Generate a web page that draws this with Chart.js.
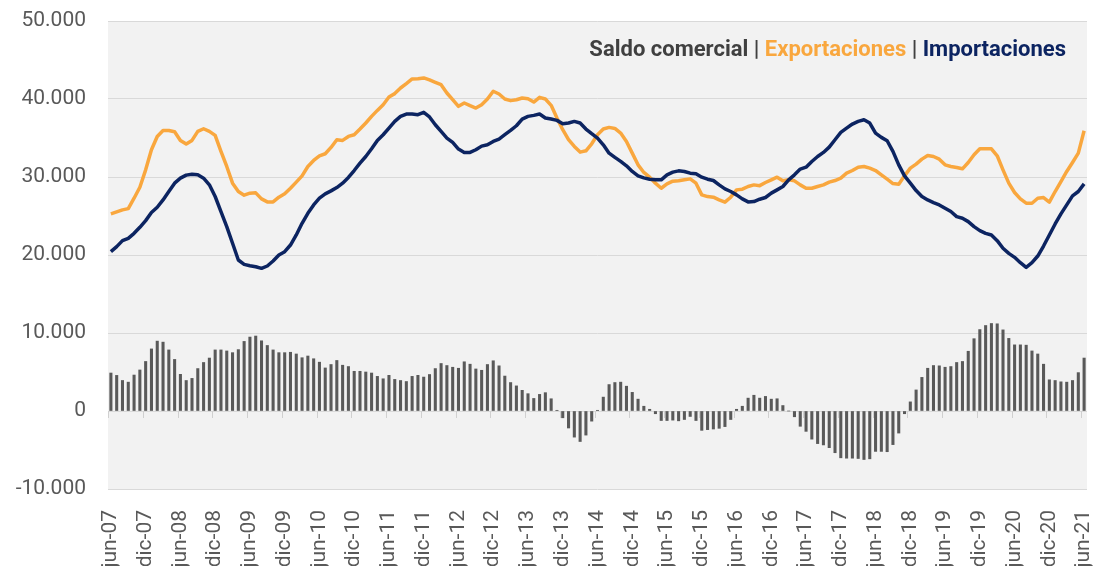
<!DOCTYPE html>
<html>
<head>
<meta charset="utf-8">
<script src="https://cdn.jsdelivr.net/npm/chart.js@4.4.1/dist/chart.umd.min.js"></script>
<style>
  html, body { margin: 0; padding: 0; background: #ffffff; }
  #wrap { position: relative; width: 1096px; height: 566px; }
  #legend { position: absolute; right: 30px; top: 36px; font-family: Roboto, sans-serif; font-weight: bold; font-size: 22px; line-height: 25px; color: #404040; white-space: nowrap; }
  #legend .exp { color: #F9A73E; }
  #legend .imp { color: #0C2461; }
</style>
</head>
<body>
<div id="wrap">
  <canvas id="c" width="1096" height="566"></canvas>
  <div id="legend"><span>Saldo comercial</span> | <span class="exp">Exportaciones</span> | <span class="imp">Importaciones</span></div>
</div>
<script>
const months = [
  'jun-07','jul-07','ago-07','sep-07','oct-07','nov-07','dic-07',
  'ene-08','feb-08','mar-08','abr-08','may-08','jun-08','jul-08','ago-08','sep-08','oct-08','nov-08','dic-08',
  'ene-09','feb-09','mar-09','abr-09','may-09','jun-09','jul-09','ago-09','sep-09','oct-09','nov-09','dic-09',
  'ene-10','feb-10','mar-10','abr-10','may-10','jun-10','jul-10','ago-10','sep-10','oct-10','nov-10','dic-10',
  'ene-11','feb-11','mar-11','abr-11','may-11','jun-11','jul-11','ago-11','sep-11','oct-11','nov-11','dic-11',
  'ene-12','feb-12','mar-12','abr-12','may-12','jun-12','jul-12','ago-12','sep-12','oct-12','nov-12','dic-12',
  'ene-13','feb-13','mar-13','abr-13','may-13','jun-13','jul-13','ago-13','sep-13','oct-13','nov-13','dic-13',
  'ene-14','feb-14','mar-14','abr-14','may-14','jun-14','jul-14','ago-14','sep-14','oct-14','nov-14','dic-14',
  'ene-15','feb-15','mar-15','abr-15','may-15','jun-15','jul-15','ago-15','sep-15','oct-15','nov-15','dic-15',
  'ene-16','feb-16','mar-16','abr-16','may-16','jun-16','jul-16','ago-16','sep-16','oct-16','nov-16','dic-16',
  'ene-17','feb-17','mar-17','abr-17','may-17','jun-17','jul-17','ago-17','sep-17','oct-17','nov-17','dic-17',
  'ene-18','feb-18','mar-18','abr-18','may-18','jun-18','jul-18','ago-18','sep-18','oct-18','nov-18','dic-18',
  'ene-19','feb-19','mar-19','abr-19','may-19','jun-19','jul-19','ago-19','sep-19','oct-19','nov-19','dic-19',
  'ene-20','feb-20','mar-20','abr-20','may-20','jun-20','jul-20','ago-20','sep-20','oct-20','nov-20','dic-20',
  'ene-21','feb-21','mar-21','abr-21','may-21','jun-21'
];

const exportaciones = [
  25270,25520,25780,25950,27280,28690,30920,33490,35200,35970,35970,35800,34690,34220,34690,35850,36190,35850,35330,33280,
  31350,29210,28140,27670,27930,27970,27190,26810,26810,27410,27840,28560,29340,30150,31350,32120,32720,32980,33790,34770,
  34690,35200,35420,36150,36920,37770,38540,39270,40260,40690,41410,41970,42570,42610,42700,42440,
  42140,41840,40770,39910,39060,39490,39140,38840,39270,40000,40990,40640,40000,39790,39910,40130,40040,39610,40210,40000,
  39190,37560,36060,34780,33920,33190,33360,34260,35420,36150,36360,36230,35630,34560,33060,31560,30580,29980,29210,28560,
  29120,29460,29510,29640,29760,29210,27710,27490,27410,27070,26770,27410,28350,28440,28780,28990,28890,
  29290,29640,29980,29510,29640,29510,28990,28560,28560,28780,28990,29340,29550,29850,30490,30830,31260,31350,31140,30830,
  30280,29720,29160,29080,30150,31140,31650,32290,32760,32630,32290,31560,31350,31220,31050,31860,32850,33620,33620,33620,
  32720,30920,29210,28010,27190,26640,26640,27280,27370,26770,28140,29420,30710,31860,33060,35930
];

const importaciones = [
  20430,21070,21840,22140,22780,23550,24410,25440,26120,27060,28140,29210,29850,30240,30360,30280,29850,29000,27500,25570,
  23640,21500,19360,18800,18630,18500,18290,18590,19230,20000,20430,21280,22570,24070,25350,26420,27280,27840,28220,28650,
  29210,29940,30830,31780,32630,33620,34690,35420,36270,37130,37770,38070,38070,37990,38290,37700,
  36700,35850,34990,34430,33580,33150,33150,33490,33960,34130,34560,34860,35420,35970,36570,37430,37770,37900,38070,37560,
  37430,37260,36830,36920,37130,36920,36150,35550,34990,34130,33060,32510,32000,31430,30710,30150,29890,29720,29640,29640,
  30280,30620,30790,30710,30490,30410,29980,29720,29550,28990,28480,28140,27710,27190,26810,26850,27150,
  27370,27930,28350,28780,29640,30280,31010,31260,31990,32630,33150,33830,34780,35720,36270,36790,37130,37340,36920,35630,
  35080,34650,33280,31560,30150,29210,28260,27490,27060,26720,26420,26000,25570,24920,24710,24280,23640,23130,22780,22570,
  21840,20860,20210,19700,19010,18420,19010,19870,21150,22570,23980,25270,26420,27580,28140,29120
];

const saldoComercial = [
  4870,4565,3913,3700,4610,5260,6350,7960,8960,8830,7830,6610,4700,3910,4180,5440,6220,6790,7830,7830,
  7700,7480,7870,8920,9480,9610,9000,8400,7830,7480,7480,7530,7310,6830,7050,6700,6260,5520,5960,6480,
  5870,5700,5090,5090,5000,4870,4440,4130,4570,4050,3910,3780,4440,4570,4350,4680,
  5440,6090,5830,5610,5480,6310,6000,5390,5220,5960,6440,5790,4480,3650,3220,2650,2220,1610,2130,2350,
  1570,90,-870,-2180,-3350,-3910,-3090,-1300,90,1780,3390,3650,3700,3180,2390,1520,610,220,-350,-1220,
  -1220,-1170,-1260,-1090,-700,-1220,-2480,-2390,-2310,-2220,-2000,-1090,220,610,1650,2020,1650,
  1870,1520,1570,700,0,-740,-1960,-2610,-3610,-4180,-4350,-4700,-5350,-6000,-6050,-6050,-6090,-6220,-6130,-5180,
  -5180,-5220,-4310,-2830,-350,1170,2700,4310,5480,5830,5790,5610,5700,6220,6350,7660,9270,10440,10960,11220,
  11180,10400,9310,8480,8480,8440,7700,7310,6000,4000,3910,3740,3700,3910,4920,6790
];

const yMin = -10000, yMax = 50000, yStep = 10000;
const labelEvery = 6;

function fmt(v) {
  const s = Math.abs(v).toString().replace(/\B(?=(\d{3})+(?!\d))/g, '.');
  return (v < 0 ? '-' : '') + s;
}

const bgPlugin = {
  id: 'bg',
  beforeDraw(chart) {
    const { ctx, chartArea: a } = chart;
    ctx.save();
    ctx.fillStyle = '#F2F2F2';
    ctx.fillRect(a.left, a.top, a.right - a.left, a.bottom - a.top);
    ctx.restore();
  },
  beforeDatasetsDraw(chart) {
    const { ctx, scales: { x, y } } = chart;
    const y0 = Math.round(y.getPixelForValue(0));
    const half = (x.getPixelForValue(1) - x.getPixelForValue(0)) / 2;
    ctx.save();
    ctx.strokeStyle = '#D0D0D0';
    ctx.lineWidth = 1;
    ctx.beginPath();
    for (let i = 0; i < months.length; i += labelEvery) {
      const px = Math.round(x.getPixelForValue(i) - half) + 0.5;
      ctx.moveTo(px, y0);
      ctx.lineTo(px, y0 + 7);
    }
    ctx.stroke();
    ctx.restore();
  }
};

new Chart(document.getElementById('c'), {
  type: 'bar',
  data: {
    labels: months,
    datasets: [
      { type: 'line', label: 'Importaciones', data: importaciones, borderColor: '#0C2461', borderWidth: 3.5, pointRadius: 0, tension: 0, order: 0, borderJoinStyle: 'round' },
      { type: 'line', label: 'Exportaciones', data: exportaciones, borderColor: '#F9A73E', borderWidth: 3.5, pointRadius: 0, tension: 0, order: 1, borderJoinStyle: 'round' },
      { type: 'bar', label: 'Saldo comercial', data: saldoComercial, backgroundColor: '#595959', barThickness: 2.4, order: 2 }
    ]
  },
  options: {
    responsive: false,
    animation: false,
    layout: { padding: { left: 10, right: 9, top: 21, bottom: 0 } },
    plugins: { legend: { display: false }, tooltip: { enabled: false } },
    scales: {
      x: {
        type: 'category',
        offset: true,
        grid: { display: false },
        border: { display: false },
        ticks: {
          autoSkip: false, maxRotation: 90, minRotation: 90, padding: 13,
          color: '#595959', font: { family: 'Roboto', size: 21 },
          callback(v, i) { return i % labelEvery === 0 ? this.getLabelForValue(v) : ''; }
        },
        afterFit(s) { s.height = 77; s.paddingLeft = 0; s.paddingRight = 0; }
      },
      y: {
        min: yMin, max: yMax,
        ticks: { stepSize: yStep, color: '#595959', font: { family: 'Roboto', size: 21 }, padding: 22, callback: v => fmt(v) },
        grid: { color: '#D9D9D9', drawTicks: false },
        border: { display: false },
        afterFit(s) { s.width = 98; s.paddingTop = 0; s.paddingBottom = 0; }
      }
    }
  },
  plugins: [bgPlugin]
});
</script>
</body>
</html>
